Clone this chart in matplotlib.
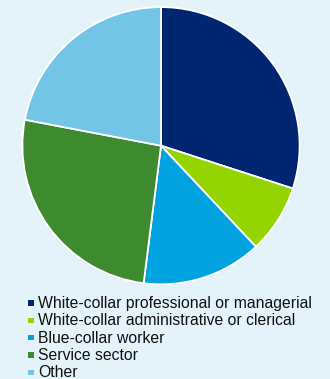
import matplotlib
matplotlib.use("Agg")
import matplotlib.pyplot as plt
from matplotlib.patches import Rectangle

categories = [
    "White-collar professional or managerial",
    "White-collar administrative or clerical",
    "Blue-collar worker",
    "Service sector",
    "Other",
]
shares = [30, 8, 14, 26, 22]
colors = ["#002672", "#94D500", "#00A3E0", "#3E8A2F", "#72C5E5"]

W, H = 330, 379
bg = "#E4F3FA"
fig = plt.figure(figsize=(W / 100, H / 100), dpi=100, facecolor=bg)

# pie axes: centre (161, 146) px, radius 140 px
cx, cy, r = 161, 145.7, 140
ax = fig.add_axes([(cx - r) / W, 1 - (cy + r) / H, 2 * r / W, 2 * r / H])
ax.set_facecolor(bg)
ax.pie(shares, colors=colors, startangle=90, counterclock=False, radius=1,
       wedgeprops=dict(edgecolor="white", linewidth=1.3))
ax.set_xlim(-1.01, 1.01)
ax.set_ylim(-1.01, 1.01)
ax.set_aspect("equal")
ax.axis("off")

# legend drawn as marker squares plus labels
y0, dy = 303, 17.3
for i, (lab, col) in enumerate(zip(categories, colors)):
    y = y0 + i * dy
    fig.patches.append(Rectangle((28.3 / W, 1 - (y + 2.7) / H), 5.2 / W, 5.4 / H,
                                 transform=fig.transFigure, facecolor=col,
                                 edgecolor="none"))
    fig.text(38.5 / W, 1 - (y + 0.5) / H, lab, fontsize=11.3, family="Liberation Sans",
             va="center", ha="left", color="#111111")

fig.savefig("out.png", dpi=100, facecolor=bg)
